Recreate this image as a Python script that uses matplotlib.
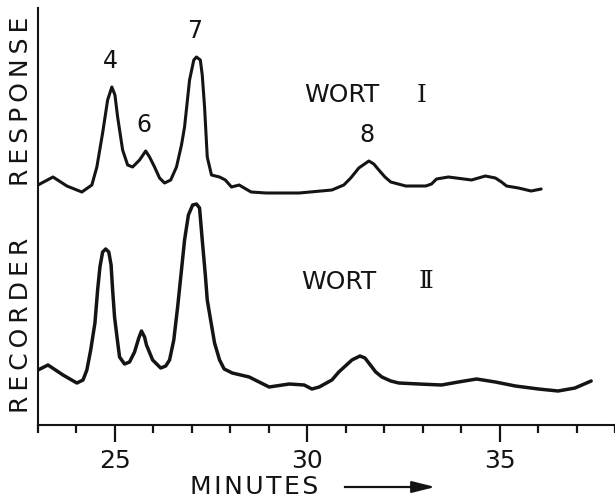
import matplotlib.pyplot as plt
from matplotlib.ticker import MultipleLocator

# retention time (minutes) and recorder response (arbitrary units)
t_wort1 = [23.00, 23.39, 23.75, 24.14, 24.40, 24.53, 24.68, 24.81, 24.92, 25.00,
           25.07, 25.20, 25.33, 25.46, 25.64, 25.80, 25.90, 26.03, 26.16, 26.29,
           26.45, 26.60, 26.73, 26.81, 26.94, 27.05, 27.12, 27.22, 27.27, 27.33,
           27.40, 27.51, 27.72, 27.87, 28.03, 28.23, 28.36, 28.54, 28.93, 29.79,
           30.64, 30.95, 31.13, 31.34, 31.60, 31.73, 31.86, 32.02, 32.17, 32.56,
           33.08, 33.23, 33.36, 33.67, 34.27, 34.63, 34.89, 35.05, 35.18, 35.49,
           35.82, 36.08]
r_wort1 = [240, 248, 239, 233, 240, 258, 292, 325, 338, 330,
           308, 275, 260, 258, 265, 274, 268, 258, 247, 242,
           245, 258, 280, 298, 345, 365, 368, 365, 350, 318,
           268, 250, 248, 245, 238, 240, 237, 233, 232, 232,
           235, 240, 247, 257, 264, 261, 255, 248, 243, 239,
           239, 241, 246, 248, 245, 249, 247, 243, 239, 237,
           234, 236]

t_wort2 = [23.00, 23.26, 23.65, 24.01, 24.17, 24.27, 24.37, 24.48, 24.55, 24.61,
           24.68, 24.76, 24.84, 24.90, 24.94, 24.99, 25.07, 25.12, 25.25, 25.38,
           25.51, 25.62, 25.69, 25.77, 25.82, 25.98, 26.19, 26.32, 26.42, 26.53,
           26.63, 26.73, 26.81, 26.91, 27.02, 27.12, 27.20, 27.27, 27.35, 27.40,
           27.51, 27.59, 27.72, 27.84, 28.05, 28.49, 28.80, 29.01, 29.53, 29.92,
           30.12, 30.31, 30.64, 30.82, 31.16, 31.37, 31.50, 31.60, 31.78, 31.94,
           32.17, 32.38, 32.90, 33.49, 33.93, 34.40, 34.89, 35.41, 36.01, 36.52,
           36.96, 37.38]
r_wort2 = [55, 60, 50, 42, 45, 55, 75, 102, 135, 158,
           173, 176, 173, 160, 135, 108, 83, 68, 61, 63,
           73, 87, 94, 88, 80, 65, 57, 59, 65, 85,
           118, 155, 185, 210, 220, 221, 217, 185, 150, 125,
           100, 82, 65, 56, 52, 48, 42, 38, 41, 40,
           36, 38, 45, 53, 65, 69, 67, 62, 53, 48,
           44, 42, 41, 40, 43, 46, 43, 39, 36, 34,
           37, 44]

# numbered peaks on the upper trace
peak_names = ['4', '6', '7', '8']
peak_times = [24.92, 25.80, 27.12, 31.60]
peak_heights = [338, 274, 368, 264]

ink = '#141414'

fig = plt.figure(figsize=(6.15, 4.99), dpi=100)
ax = fig.add_axes([38 / 615, 1 - 425 / 499, 1 - 38 / 615, 417 / 499])

ax.plot(t_wort1, r_wort1, color=ink, lw=2.2, solid_joinstyle='round', solid_capstyle='round')
ax.plot(t_wort2, r_wort2, color=ink, lw=2.5, solid_joinstyle='round', solid_capstyle='round')

for name, t, h in zip(peak_names, peak_times, peak_heights):
    ax.text(t - 0.05, h + 14, name, ha='center', va='bottom', fontsize=17, color=ink)

# trace names, roman numerals with serifs
ax.text(29.92, 330, 'WORT', ha='left', va='center', fontsize=18, color=ink)
ax.text(32.97, 330, 'I', ha='center', va='center', fontsize=18, color=ink,
        family='DejaVu Serif')
ax.text(29.84, 143, 'WORT', ha='left', va='center', fontsize=18, color=ink)
ax.text(33.08, 143, '\u2161', ha='center', va='center', fontsize=18, color=ink,
        family='DejaVu Serif')

ax.set_xlim(23, 38)
ax.set_ylim(0, 417)
ax.xaxis.set_major_locator(MultipleLocator(5))
ax.xaxis.set_minor_locator(MultipleLocator(1))
ax.tick_params(axis='x', which='major', length=12, width=1.6, pad=5,
               labelsize=18, colors=ink)
ax.tick_params(axis='x', which='minor', length=6, width=1.6, colors=ink)
ax.set_xticks([25, 30, 35])
ax.set_xticklabels(['25', '30', '35'])
ax.set_yticks([])
for side in ['top', 'right']:
    ax.spines[side].set_visible(False)
for side in ['left', 'bottom']:
    ax.spines[side].set_linewidth(1.5)
    ax.spines[side].set_color(ink)

ts = '\u2009'
fig.text(21 / 615, 1 - 101 / 499, ts.join('RESPONSE'), rotation=90,
         ha='center', va='center', fontsize=18, color=ink)
fig.text(21 / 615, 1 - 325 / 499, ts.join('RECORDER'), rotation=90,
         ha='center', va='center', fontsize=18, color=ink)
fig.text(190 / 615, 1 - 487 / 499, '\u200a'.join('MINUTES'), ha='left', va='center',
         fontsize=18, color=ink)
fig.add_artist(plt.Line2D([345 / 615, 420 / 615], [1 - 487 / 499, 1 - 487 / 499],
                          color=ink, lw=1.6))
ax.annotate('', xy=(438 / 615, 1 - 487 / 499), xytext=(412 / 615, 1 - 487 / 499),
            xycoords='figure fraction', textcoords='figure fraction',
            arrowprops=dict(arrowstyle='-|>,head_length=1.4,head_width=0.35',
                            color=ink, lw=1.6))

fig.savefig('out.png', dpi=100)
